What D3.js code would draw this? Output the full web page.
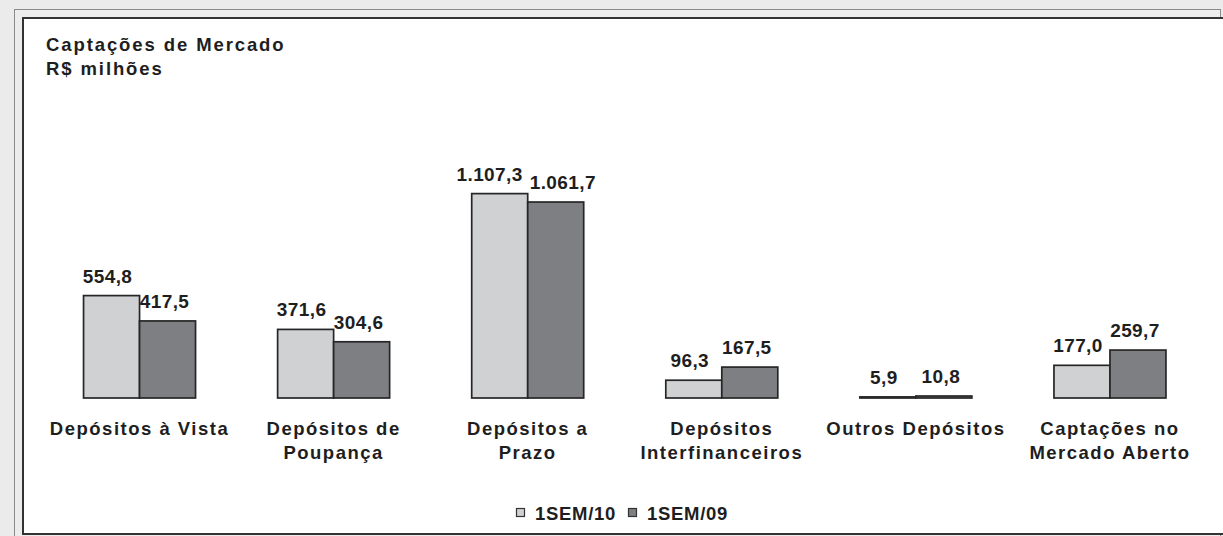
<!DOCTYPE html>
<html>
<head>
<meta charset="utf-8">
<script src="https://cdn.jsdelivr.net/npm/d3@7"></script>
<style>
  body { margin: 0; background: #ebebeb; }
  svg { display: block; font-family: "Liberation Sans", Arial, sans-serif; font-weight: bold; }
</style>
</head>
<body>
<svg></svg>
<script>
// Data
const categories = ["Depósitos à Vista", "Depósitos de Poupança", "Depósitos a Prazo",
                    "Depósitos Interfinanceiros", "Outros Depósitos", "Captações no Mercado Aberto"];
const categoryLines = [["Depósitos à Vista"], ["Depósitos de", "Poupança"], ["Depósitos a", "Prazo"],
                       ["Depósitos", "Interfinanceiros"], ["Outros Depósitos"], ["Captações no", "Mercado Aberto"]];
const seriesNames = ["1SEM/10", "1SEM/09"];
const sem10 = [554.8, 371.6, 1107.3, 96.3, 5.9, 177.0];
const sem09 = [417.5, 304.6, 1061.7, 167.5, 10.8, 259.7];
const titleLines = ["Captações de Mercado", "R$ milhões"];

const colors = {"1SEM/10": "#d0d1d3", "1SEM/09": "#7e7f83"};
const ink = "#1e1e1e";

const W = 1223, H = 536;
const svg = d3.select("svg").attr("width", W).attr("height", H);

// frame
svg.append("rect").attr("width", W).attr("height", H).attr("fill", "#ebebeb");
svg.append("rect")
    .attr("x", 14.5).attr("y", 9.5).attr("width", 1206).attr("height", 540)
    .attr("fill", "#ececec").attr("stroke", "#8a8a8a").attr("stroke-width", 1);
svg.append("rect")
    .attr("x", 23).attr("y", 18).attr("width", 1215).attr("height", 516)
    .attr("fill", "#fff").attr("stroke", "#333").attr("stroke-width", 2);

// title
svg.append("g").selectAll("text").data(titleLines).join("text")
    .attr("x", 46).attr("y", (d, i) => 51 + i * 24)
    .attr("font-size", 18.5).attr("letter-spacing", 1.9).attr("fill", ink)
    .text(d => d);

// scales
const x0 = d3.scaleBand().domain(categories).range([42.5, 1207]).padding(0);
const groupW = 112;
const x1 = d3.scaleBand().domain(seriesNames).range([0, groupW]).padding(0);
const y = d3.scaleLinear().domain([0, 1200]).range([398, 176.5]);

const locale = d3.formatLocale({decimal: ",", thousands: ".", grouping: [3], currency: ["R$", ""]});
const fmt = locale.format(",.1f");

const rows = categories.map((c, i) => ({cat: c, vals: [
    {s: "1SEM/10", v: sem10[i]}, {s: "1SEM/09", v: sem09[i]}]}));

const groups = svg.append("g").selectAll("g").data(rows).join("g")
    .attr("transform", d => `translate(${x0(d.cat) + (x0.bandwidth() - groupW) / 2},0)`);

groups.selectAll("rect").data(d => d.vals).join("rect")
    .attr("x", d => x1(d.s))
    .attr("y", d => y(d.v))
    .attr("width", x1.bandwidth())
    .attr("height", d => y(0) - y(d.v))
    .attr("fill", d => colors[d.s])
    .attr("stroke", "#262626").attr("stroke-width", 1.7);

// value labels, pushed apart when the pair would collide
groups.each(function(d) {
    const g = d3.select(this);
    const labels = g.selectAll("text").data(d.vals).join("text")
        .attr("y", v => y(v.v) - 13)
        .attr("text-anchor", "middle")
        .attr("font-size", 19).attr("letter-spacing", 0.4).attr("fill", ink)
        .text(v => fmt(v.v));
    const widths = labels.nodes().map(n => n.getComputedTextLength());
    let c0 = x1(seriesNames[0]) + x1.bandwidth() / 2 - 4;
    let c1 = x1(seriesNames[1]) + x1.bandwidth() / 2 - 3;
    const need = (widths[0] + widths[1]) / 2 + 7;
    if (c1 - c0 < need) {
        const mid = (c0 + c1) / 2 + 2;
        c0 = mid - need / 2;
        c1 = mid + need / 2;
    }
    labels.attr("x", (v, i) => i === 0 ? c0 : c1);
});

// category labels
const catLabels = svg.append("g").selectAll("text").data(categories).join("text")
    .attr("x", d => x0(d) + x0.bandwidth() / 2)
    .attr("y", 435)
    .attr("text-anchor", "middle")
    .attr("font-size", 18.5).attr("letter-spacing", 1.5).attr("fill", ink);
catLabels.selectAll("tspan").data((d, i) => categoryLines[i]).join("tspan")
    .attr("x", function() { return this.parentNode.getAttribute("x"); })
    .attr("dy", (d, i) => i === 0 ? 0 : 24)
    .text(d => d);

// legend
const legend = svg.append("g");
let lx = 516;
seriesNames.forEach(s => {
    legend.append("rect")
        .attr("x", lx + 0.5).attr("y", 508.5).attr("width", 8).attr("height", 8)
        .attr("fill", colors[s]).attr("stroke", "#333").attr("stroke-width", 1.2);
    const t = legend.append("text")
        .attr("x", lx + 19).attr("y", 520)
        .attr("font-size", 18.5).attr("letter-spacing", 0.7).attr("fill", ink)
        .text(s);
    lx = lx + 19 + t.node().getComputedTextLength() + 12;
});
</script>
</body>
</html>
